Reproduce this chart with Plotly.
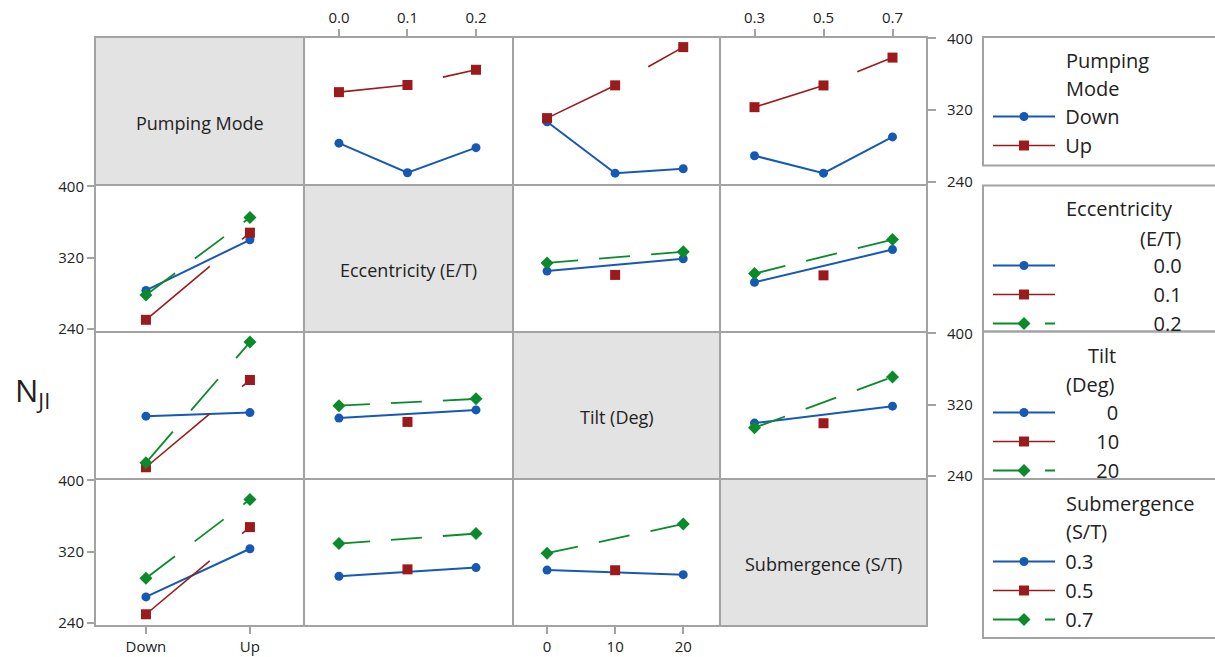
import math
import plotly.graph_objects as go

# ---------------- data ----------------
factor_names = ["Pumping Mode", "Eccentricity (E/T)", "Tilt (Deg)", "Submergence (S/T)"]
mode_levels = ["Down", "Up"]
ecc_levels = [0.0, 0.1, 0.2]
tilt_levels = [0, 10, 20]
sub_levels = [0.3, 0.5, 0.7]

ecc_ticks = ["0.0", "0.1", "0.2"]
tilt_ticks = ["0", "10", "20"]
sub_ticks = ["0.3", "0.5", "0.7"]
y_ticks = [240, 320, 400]

# two-factor means of N_JI (rows: levels of first factor, cols: levels of second)
mode_ecc = [[283.0, 250.0, 278.0], [340.0, 348.0, 365.0]]
mode_tilt = [[307.0, 249.5, 254.5], [311.0, 347.6, 390.3]]
mode_sub = [[269.0, 249.5, 290.0], [323.2, 347.5, 378.6]]
ecc_tilt = [[304.8, None, 318.7], [None, 300.5, None], [314.0, None, 326.4]]
ecc_sub = [[292.2, None, 329.0], [None, 300.0, None], [302.0, None, 340.2]]
tilt_sub = [[299.2, None, 318.2], [None, 299.0, None], [294.0, None, 351.0]]

# ---------------- structure / style ----------------
levels = [mode_levels, ecc_levels, tilt_levels, sub_levels]
pair_means = {(0, 1): mode_ecc, (0, 2): mode_tilt, (0, 3): mode_sub,
              (1, 2): ecc_tilt, (1, 3): ecc_sub, (2, 3): tilt_sub}

NB = "\u00a0"
legend_names = [
    [NB + "Down", NB + "Up"],
    [NB * 18 + "0.0", NB * 18 + "0.1", NB * 18 + "0.2"],
    [NB * 9 + "0", NB * 7 + "10", NB * 7 + "20"],
    [NB + "0.3", NB + "0.5", NB + "0.7"],
]

W, H = 1215, 657
col_px = [95, 304, 513, 720, 927]
row_px = [37, 185, 332, 479, 626]
x_ranges = [[-0.49, 1.52], [-0.051, 0.254], [-5.0, 25.4], [0.2, 0.8]]
y_range = [236.3, 401.6]

colors = ["#1659b4", "#9c1a1c", "#0b8a2c"]
symbols = ["circle", "square", "diamond"]
msizes = [9, 10, 10]
lwidths = [2.0, 1.6, 1.8]
base_dash = [None, (69, 35), (31, 21)]

FONT = "Open Sans"
TXT = "#222222"
GRID = "#a3a3a3"
DIAG = "#e3e3e3"


def cell_matrix(i, j):
    if i < j:
        return pair_means[(i, j)]
    m = pair_means[(j, i)]
    return [[m[a][b] for a in range(len(m))] for b in range(len(m[0]))]


def x_pos(j, k):
    return k if j == 0 else levels[j][k]


def dash_for(base, j, ys, k=0.5):
    if base is None:
        return "solid"
    xw = col_px[j + 1] - col_px[j]
    yh = row_px[1] - row_px[0]
    r0, r1 = x_ranges[j]
    pts = []
    for idx, y in enumerate(ys):
        if y is None:
            continue
        px = (x_pos(j, idx) - r0) / (r1 - r0) * xw
        py = (y - y_range[0]) / (y_range[1] - y_range[0]) * yh
        pts.append((px, py))
    L = M = 0.0
    for (x0, y0), (x1, y1) in zip(pts, pts[1:]):
        L += math.hypot(x1 - x0, y1 - y0)
        M += math.hypot(x1 - x0, k * (y1 - y0))
    r = L / M if M > 0 else 1.0
    return f"{base[0] * r:.1f}px,{base[1] * r:.1f}px"


def px2fx(px):
    return px / W


def py2fy(py):
    return 1 - py / H


fig = go.Figure()
layout = {}
shapes = []
annotations = []

TICKFONT = dict(family=FONT, size=15, color=TXT)

for i in range(4):
    for j in range(4):
        n = i * 4 + j + 1
        xa = "x" if n == 1 else f"x{n}"
        ya = "y" if n == 1 else f"y{n}"
        xkey = "xaxis" if n == 1 else f"xaxis{n}"
        ykey = "yaxis" if n == 1 else f"yaxis{n}"

        # x axis
        xax = dict(domain=[px2fx(col_px[j]), px2fx(col_px[j + 1])], anchor=ya,
                   range=x_ranges[j], showgrid=False, zeroline=False,
                   showline=True, mirror=True, linecolor=GRID, linewidth=1,
                   tickfont=TICKFONT, ticks="", showticklabels=False,
                   fixedrange=True, automargin=False)
        if j == 0:
            xax.update(type="category", categoryorder="array", categoryarray=mode_levels)
        else:
            tv = levels[j]
            tt = [ecc_ticks, tilt_ticks, sub_ticks][j - 1]
            xax.update(tickvals=tv, ticktext=tt)
        if i == 0 and j in (1, 3):
            xax.update(side="top", ticks="outside", ticklen=7, tickwidth=1.5,
                       tickcolor=GRID, showticklabels=True)
        if i == 3 and j in (0, 2):
            xax.update(side="bottom", ticks="outside", ticklen=7, tickwidth=1.5,
                       tickcolor=GRID, showticklabels=True)
        layout[xkey] = xax

        # y axis
        yax = dict(domain=[py2fy(row_px[i + 1]), py2fy(row_px[i])], anchor=xa,
                   range=y_range, showgrid=False, zeroline=False,
                   showline=True, mirror=True, linecolor=GRID, linewidth=1,
                   tickvals=y_ticks, tickfont=TICKFONT,
                   ticks="", showticklabels=False, fixedrange=True, automargin=False)
        if j == 0 and i in (1, 3):
            yax.update(side="left", ticks="outside", ticklen=7, tickwidth=1.5,
                       tickcolor=GRID, showticklabels=True)
        if j == 3 and i in (0, 2):
            yax.update(side="right", ticks="outside", ticklen=8, tickwidth=1.5,
                       tickcolor=GRID, showticklabels=True, ticklabelstandoff=8)
        layout[ykey] = yax

        if i == j:
            # empty trace so that the diagonal subplot exists
            fig.add_trace(go.Scatter(x=[None], y=[None], xaxis=xa, yaxis=ya,
                                     showlegend=False, hoverinfo="skip", mode="lines"))
            shapes.append(dict(type="rect", xref="paper", yref="paper",
                               x0=px2fx(col_px[j]), x1=px2fx(col_px[j + 1]),
                               y0=py2fy(row_px[i + 1]), y1=py2fy(row_px[i]),
                               fillcolor=DIAG, line=dict(width=0), layer="below"))
            annotations.append(dict(text=factor_names[i], xref="paper", yref="paper",
                                    x=px2fx((col_px[j] + col_px[j + 1]) / 2),
                                    y=py2fy(row_px[i] + 0.58 * (row_px[i + 1] - row_px[i])),
                                    xanchor="center", yanchor="middle", showarrow=False,
                                    font=dict(family=FONT, size=18, color=TXT)))
            continue

        mat = cell_matrix(i, j)
        xs = levels[j]
        for li, ys in enumerate(mat):
            fig.add_trace(go.Scatter(
                x=xs, y=ys, xaxis=xa, yaxis=ya, mode="lines+markers",
                connectgaps=True, showlegend=False, hoverinfo="skip",
                line=dict(color=colors[li], width=lwidths[li],
                          dash=dash_for(base_dash[li], j, ys)),
                marker=dict(symbol=symbols[li], size=msizes[li], color=colors[li],
                            line=dict(width=0)),
            ))

# outer frame of the matrix
shapes.append(dict(type="rect", xref="paper", yref="paper",
                   x0=px2fx(col_px[0]), x1=px2fx(col_px[-1]),
                   y0=py2fy(row_px[-1]), y1=py2fy(row_px[0]),
                   line=dict(color=GRID, width=2), fillcolor="rgba(0,0,0,0)",
                   layer="above"))

# legend entries (one legend per factor)
legend_tops = [97, 246, 393, 542]
for f in range(4):
    lg = "legend" if f == 0 else f"legend{f + 1}"
    for li, nm in enumerate(legend_names[f]):
        fig.add_trace(go.Scatter(
            x=[None], y=[None], mode="lines+markers", name=nm, legend=lg,
            line=dict(color=colors[li], width=lwidths[li],
                      dash="solid" if base_dash[li] is None else f"{base_dash[li][0]}px,{base_dash[li][1]}px"),
            marker=dict(symbol=symbols[li], size=msizes[li], color=colors[li]),
        ))
    layout[lg] = dict(x=px2fx(988), y=py2fy(legend_tops[f]), xanchor="left", yanchor="top",
                      bgcolor="rgba(0,0,0,0)", borderwidth=0, itemwidth=62,
                      tracegroupgap=0, traceorder="normal",
                      font=dict(family=FONT, size=20, color=TXT),
                      itemclick=False, itemdoubleclick=False)

# legend boxes
for (t, b) in [(37, 165.5), (185.5, 331.5), (331.5, 479), (479, 638)]:
    shapes.append(dict(type="rect", xref="paper", yref="paper",
                       x0=px2fx(983), x1=1.02, y0=py2fy(b), y1=py2fy(t),
                       line=dict(color=GRID, width=2), fillcolor="rgba(0,0,0,0)",
                       layer="below"))

# legend titles
def ann(text, x, y, anchor="left", size=20):
    annotations.append(dict(text=text, xref="paper", yref="paper", x=px2fx(x), y=py2fy(y),
                            xanchor=anchor, yanchor="middle", showarrow=False,
                            font=dict(family=FONT, size=size, color=TXT)))

ann("Pumping", 1064, 60)
ann("Mode", 1064, 88)
ann("Eccentricity", 1064, 208)
ann("(E/T)", 1183, 238, "right")
ann("Tilt", 1118, 355, "right")
ann("(Deg)", 1064, 384)
ann("Submergence", 1064, 503)
ann("(S/T)", 1064, 531)

# response label
annotations.append(dict(text="N<sub>JI</sub>", xref="paper", yref="paper",
                        x=px2fx(32), y=py2fy(392), xanchor="center", yanchor="middle",
                        showarrow=False, font=dict(family=FONT, size=31, color=TXT)))

fig.update_layout(**layout)
fig.update_layout(width=W, height=H, margin=dict(l=0, r=0, t=0, b=0, autoexpand=False),
                  paper_bgcolor="white", plot_bgcolor="white",
                  shapes=shapes, annotations=annotations, hovermode=False)

fig.write_html("out.html", include_plotlyjs=True, config={"displayModeBar": False},
               post_script="document.body.style.margin='0';document.body.style.overflow='hidden';")
